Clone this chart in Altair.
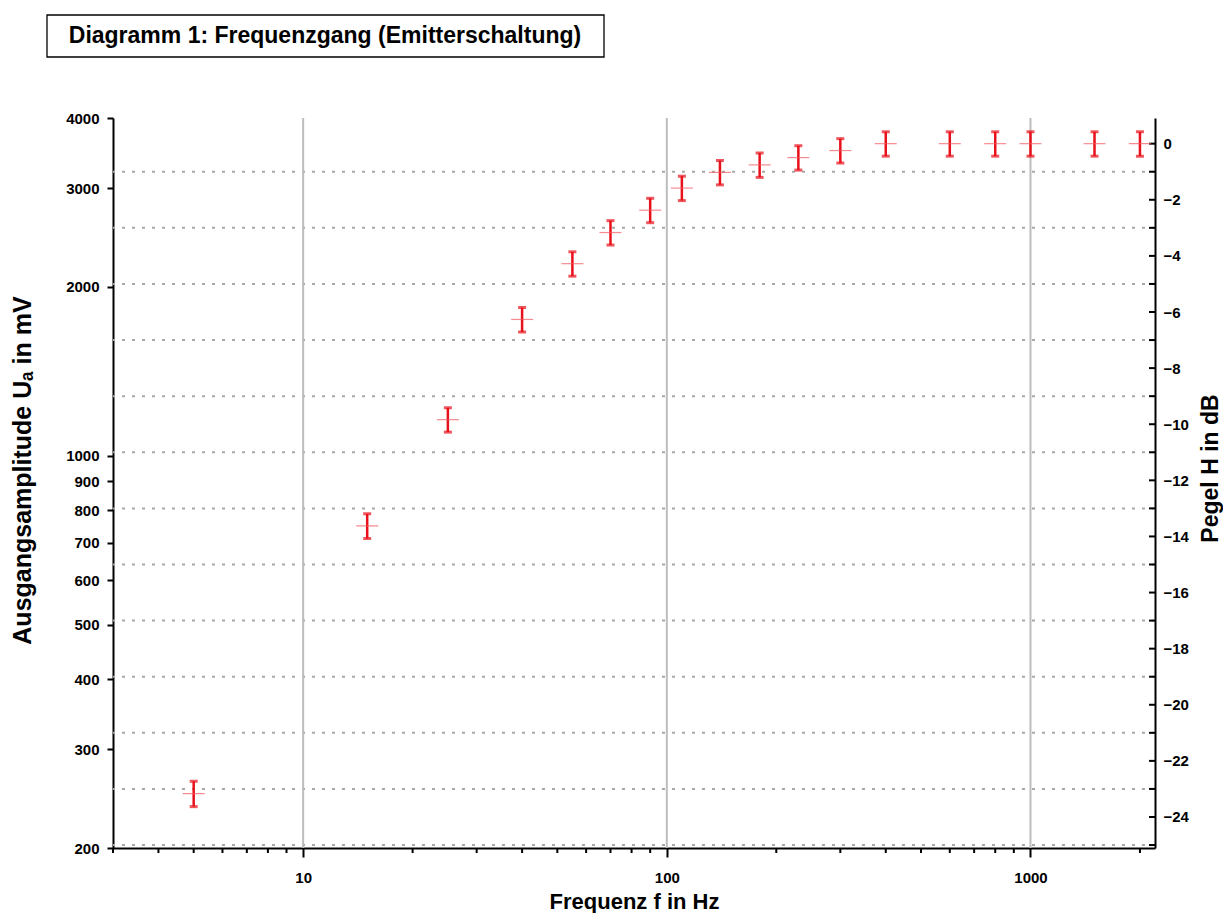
import math
import altair as alt
import pandas as pd

# ---------------- data ----------------
title_text = "Diagramm 1: Frequenzgang (Emitterschaltung)"
x_title = "Frequenz f in Hz"
y_title = "Ausgangsamplitude Uₐ in mV"
y2_title = "Pegel H in dB"

freq_hz = [5, 15, 25, 40, 55, 70, 90, 110, 140, 180, 230, 300, 400, 600, 800, 1000, 1500, 2000]
ua_mv = [250, 750, 1160, 1750, 2200, 2500, 2740, 3000, 3200, 3300, 3400, 3500,
         3600, 3600, 3600, 3600, 3600, 3600]
err_mv = [13, 38, 58, 88, 110, 125, 137, 150, 160, 165, 170, 175,
          180, 180, 180, 180, 180, 180]

x_domain = [3, 2200]
y_domain = [200, 4000]
ref_mv = 3600  # 0 dB reference level

x_major = [10, 100, 1000]
x_minor = [3, 4, 5, 6, 7, 8, 9, 20, 30, 40, 50, 60, 70, 80, 90,
           200, 300, 400, 500, 600, 700, 800, 900, 2000]
y_ticks = [200, 300, 400, 500, 600, 700, 800, 900, 1000, 2000, 3000, 4000]
db_labels = [0, -2, -4, -6, -8, -10, -12, -14, -16, -18, -20, -22, -24]
db_ticks = [0, -1, -2, -3, -4, -5, -6, -7, -8, -9, -10, -11, -12, -13,
            -14, -15, -16, -17, -18, -19, -20, -21, -22, -23, -24, -25]
db_grid = [-1, -3, -5, -7, -9, -11, -13, -15, -17, -19, -21, -23, -25]

# ---------------- layout / style ----------------
W, H = 1042, 730
FONT = "Liberation Sans"
RED = "#e8101a"
RED_LIGHT = "#f25a5f"

db_domain = [20 * math.log10(y_domain[0] / ref_mv), 20 * math.log10(y_domain[1] / ref_mv)]

df = pd.DataFrame({"f": freq_hz, "u": ua_mv, "e": err_mv})
df["lo"] = df["u"] - df["e"]
df["hi"] = df["u"] + df["e"]

x_scale = alt.Scale(type="log", domain=x_domain, nice=False)
y_scale = alt.Scale(type="log", domain=y_domain, nice=False)
db_scale = alt.Scale(type="linear", domain=db_domain, nice=False, zero=False)

x_axis = alt.Axis(
    values=x_major, format="d", title=x_title, grid=False,
    tickSize=9, tickWidth=2, tickColor="black",
    domainColor="black", domainWidth=2,
    labelPadding=13, labelFont=FONT, labelFontSize=15, labelFontWeight="bold",
    labelColor="black",
    titleFont=FONT, titleFontSize=22, titleFontWeight="bold", titleColor="black",
    titleY=60, titleBaseline="alphabetic",
)
y_axis = alt.Axis(
    values=y_ticks, format="d", title=y_title, grid=False,
    tickSize=6, tickWidth=2, tickColor="black",
    domainColor="black", domainWidth=2,
    labelPadding=8, labelFont=FONT, labelFontSize=15, labelFontWeight="bold",
    labelColor="black",
    titleFont=FONT, titleFontSize=25, titleFontWeight="bold", titleColor="black",
    titleAngle=270, titleX=-91, titleY=352, titleBaseline="middle", titleAlign="center",
)
db_axis = alt.Axis(
    orient="right", values=db_labels, title=y2_title, grid=False,
    ticks=False, domainColor="black", domainWidth=2,
    labelPadding=8, labelFont=FONT, labelFontSize=15, labelFontWeight="bold",
    labelColor="black",
    titleFont=FONT, titleFontSize=23, titleFontWeight="bold", titleColor="black",
    titleAngle=270, titleX=55, titleY=350, titleBaseline="middle", titleAlign="center",
)


def X(field="f"):
    return alt.X(f"{field}:Q", scale=x_scale, axis=x_axis)


def Y(field):
    return alt.Y(f"{field}:Q", scale=y_scale, axis=y_axis)


def YDB(field="db"):
    return alt.Y(f"{field}:Q", scale=db_scale, axis=db_axis)


# ---------------- left (mV) group ----------------
vgrid = alt.Chart(pd.DataFrame({"f": x_major})).mark_rule(
    color="#bdbdbd", strokeWidth=2
).encode(x=X())

minor_ticks = alt.Chart(pd.DataFrame({"f": x_minor})).mark_rule(
    color="black", strokeWidth=2
).encode(x=X(), y=alt.value(H), y2=alt.value(H + 5))

base = alt.Chart(df)
bars = base.mark_rule(color=RED, strokeWidth=2.5).encode(x=X(), y=Y("lo"), y2="hi:Q")
cap_hi = base.mark_tick(orient="horizontal", size=8, thickness=3, color=RED).encode(x=X(), y=Y("hi"))
cap_lo = base.mark_tick(orient="horizontal", size=8, thickness=3, color=RED).encode(x=X(), y=Y("lo"))
center = base.mark_tick(orient="horizontal", size=22, thickness=1.2, color=RED_LIGHT).encode(x=X(), y=Y("u"))

left = alt.layer(vgrid, minor_ticks, bars, cap_hi, cap_lo, center)

# ---------------- right (dB) group ----------------
hgrid = alt.Chart(pd.DataFrame({"db": db_grid})).mark_rule(
    color="#a8a8a8", strokeWidth=2, strokeDash=[3, 7]
).encode(y=YDB())

rticks = alt.Chart(pd.DataFrame({"db": db_ticks})).mark_rule(
    color="black", strokeWidth=2
).encode(y=YDB(), x=alt.value(W - 6), x2=alt.value(W))

right = alt.layer(hgrid, rticks)

# ---------------- title box ----------------
one = alt.Data(values=[{"t": title_text}])
tbox = alt.Chart(one).mark_rect(fill="white", stroke="black", strokeWidth=1.3).encode(
    x=alt.value(-66), x2=alt.value(491), y=alt.value(-103), y2=alt.value(-61)
)
ttext = alt.Chart(one).mark_text(
    font=FONT, fontSize=23, fontWeight="bold", color="black", align="center", baseline="middle"
).encode(x=alt.value(212), y=alt.value(-82), text="t:N")

chart = alt.layer(right, left, tbox, ttext).resolve_scale(y="independent").properties(
    width=W, height=H,
    autosize=alt.AutoSizeParams(type="none"),
    padding={"left": 105, "top": 110, "right": 68, "bottom": 65},
    background="white",
).configure_view(strokeWidth=0)

chart.save("out.html", embed_options={"renderer": "svg", "actions": False})
